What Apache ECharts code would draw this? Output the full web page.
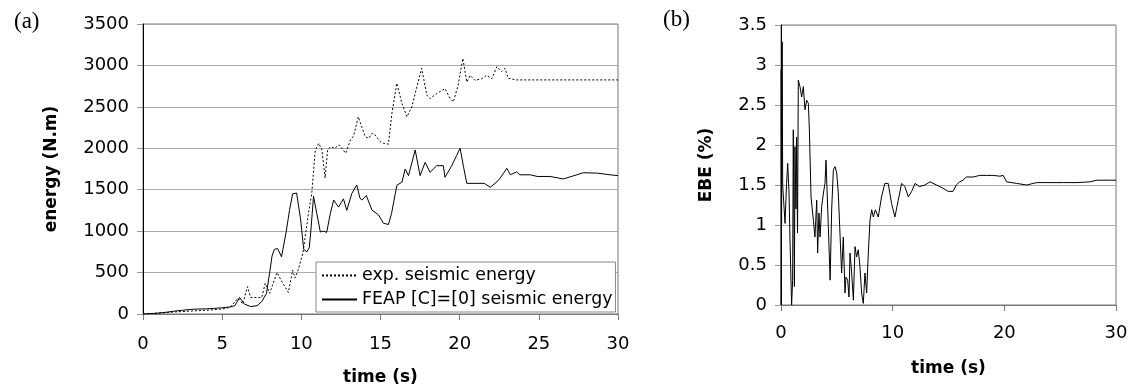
<!DOCTYPE html>
<html><head><meta charset="utf-8">
<script src="https://cdn.jsdelivr.net/npm/echarts@6/dist/echarts.min.js"></script>
<style>html,body{margin:0;padding:0;background:#fff}#c{width:1133px;height:392px}</style>
</head><body><div id="c"></div>
<script>
const expName = 'exp. seismic energy';
const feapName = 'FEAP [C]=[0] seismic energy';
const energyTicks = [0, 3500, 500];
const ebeTicks = [0, 3.5, 0.5];
const expData = [[0,0],[1,10],[2,25],[3,35],[4,45],[5,60],[5.5,80],[6.0,190],[6.3,120],[6.6,330],[6.8,200],[7.5,200],[7.72,370],[8.0,250],[8.46,500],[8.8,380],[9.18,260],[9.45,530],[9.6,434],[9.8,530],[10.1,735],[10.45,1215],[10.66,1457],[10.88,1980],[11.1,2060],[11.3,1980],[11.5,1640],[11.66,1980],[11.85,2020],[12.1,2000],[12.4,2040],[12.8,1940],[13.1,2100],[13.3,2150],[13.6,2380],[13.83,2250],[14.04,2140],[14.25,2120],[14.46,2180],[14.66,2160],[14.98,2080],[15.2,2060],[15.5,2050],[15.72,2420],[16.03,2785],[16.35,2545],[16.67,2380],[16.98,2500],[17.3,2745],[17.6,2965],[17.93,2640],[18.13,2600],[18.55,2660],[19.07,2720],[19.4,2600],[19.6,2560],[19.9,2760],[20.2,3085],[20.45,2800],[20.66,2880],[20.97,2820],[21.4,2840],[21.7,2880],[22.03,2840],[22.35,2985],[22.65,2925],[22.86,2965],[23.07,2845],[23.6,2825],[30,2825]];
const feapData = [[0,0],[0.5,5],[1,12],[1.5,22],[2,35],[2.5,45],[3,55],[3.5,60],[4,62],[4.5,68],[5,75],[5.5,85],[5.8,100],[6.1,200],[6.4,120],[6.8,90],[7.2,100],[7.5,150],[7.8,250],[8.0,500],[8.15,700],[8.3,780],[8.5,790],[8.75,690],[9.05,1000],[9.25,1250],[9.45,1450],[9.7,1460],[9.95,1150],[10.15,780],[10.35,750],[10.5,800],[10.6,1000],[10.77,1420],[10.98,1210],[11.2,990],[11.4,1000],[11.6,985],[11.83,1210],[12.04,1375],[12.35,1290],[12.66,1390],[12.87,1250],[13.19,1455],[13.5,1557],[13.7,1400],[13.82,1375],[14.1,1430],[14.46,1255],[14.88,1195],[15.19,1095],[15.5,1080],[15.7,1215],[15.93,1450],[16.04,1555],[16.35,1590],[16.56,1750],[16.77,1670],[17.19,1980],[17.5,1670],[17.82,1830],[18.13,1710],[18.55,1790],[18.97,1790],[19.07,1650],[19.5,1790],[19.8,1910],[20.03,2000],[20.24,1780],[20.45,1577],[21.1,1577],[21.55,1577],[21.93,1530],[22.35,1595],[22.56,1640],[22.98,1758],[23.2,1680],[23.6,1715],[23.8,1680],[24.46,1680],[24.9,1660],[25.7,1660],[26.55,1630],[27.4,1680],[27.8,1705],[28.7,1700],[29.5,1680],[30,1670]];
const ebeData = [[0,0],[0.02,2.94],[0.05,1.0],[0.1,3.29],[0.15,1.5],[0.2,1.48],[0.36,1.02],[0.5,1.52],[0.6,1.77],[0.72,1.4],[0.8,0.85],[0.95,0],[1.04,0.31],[1.1,2.19],[1.2,0.23],[1.25,1.98],[1.34,1.2],[1.4,2.1],[1.48,0.9],[1.55,2.81],[1.7,2.73],[1.85,2.6],[2.0,2.73],[2.15,2.44],[2.3,2.56],[2.45,2.52],[2.54,2.19],[2.69,1.35],[2.9,1.06],[3.04,0.85],[3.2,1.31],[3.28,0.65],[3.4,1.15],[3.5,0.85],[3.64,1.23],[3.8,1.4],[3.94,1.52],[4.03,1.81],[4.12,1.45],[4.24,0.98],[4.4,0.31],[4.54,1.2],[4.69,1.69],[4.84,1.73],[4.99,1.65],[5.13,1.4],[5.28,0.9],[5.43,0.4],[5.58,0.85],[5.73,0.15],[5.82,0.35],[5.97,0.31],[6.09,0.1],[6.18,0.65],[6.33,0.4],[6.48,0.06],[6.63,0.73],[6.77,0.6],[6.92,0.69],[7.07,0.48],[7.22,0.15],[7.37,0.02],[7.52,0.4],[7.67,0.15],[7.82,0.65],[7.97,1.06],[8.12,1.19],[8.27,1.1],[8.45,1.19],[8.71,1.1],[9.0,1.35],[9.3,1.52],[9.6,1.52],[9.9,1.27],[10.2,1.1],[10.5,1.31],[10.8,1.52],[11.1,1.48],[11.4,1.35],[11.7,1.42],[12.0,1.52],[12.4,1.48],[12.9,1.5],[13.34,1.54],[13.93,1.5],[14.5,1.46],[14.98,1.42],[15.4,1.42],[15.7,1.5],[16.0,1.54],[16.3,1.56],[16.6,1.6],[17.2,1.6],[17.8,1.62],[18.4,1.62],[19.0,1.62],[19.6,1.61],[19.9,1.62],[20.2,1.54],[21.1,1.52],[22.0,1.5],[22.9,1.53],[24.1,1.53],[25.3,1.53],[26.5,1.53],[27.7,1.54],[28.3,1.56],[29.5,1.56],[30,1.56]];

const FONT = 'DejaVu Sans';
const chart = echarts.init(document.getElementById('c'), null, {renderer: 'canvas'});
const plain = v => String(v);
function xAx(gi, interval, margin) {
  return {
    gridIndex: gi, type: 'value', min: 0, max: 30, interval: interval,
    name: 'time (s)', nameLocation: 'middle', nameGap: 55,
    nameTextStyle: {fontFamily: FONT, fontWeight: 'bold', fontSize: 17, color: '#000'},
    axisLine: {show: true, lineStyle: {color: '#777', width: 1}},
    axisTick: {show: true, length: 6, lineStyle: {color: '#777'}},
    axisLabel: {fontFamily: FONT, fontSize: 18, color: '#000', margin: margin, formatter: plain},
    splitLine: {show: false}
  };
}
function yAx(gi, ticks, name, gap) {
  return {
    gridIndex: gi, type: 'value', min: ticks[0], max: ticks[1], interval: ticks[2],
    name: name, nameLocation: 'middle', nameGap: gap, nameRotate: 90,
    nameTextStyle: {fontFamily: FONT, fontWeight: 'bold', fontSize: 17, color: '#000'},
    axisLine: {show: true, lineStyle: {color: '#000', width: 1}},
    axisTick: {show: true, length: 6, lineStyle: {color: '#999'}},
    axisLabel: {fontFamily: FONT, fontSize: 18, color: '#000', margin: 14, formatter: plain},
    splitLine: {show: true, lineStyle: {color: '#aaa', width: 1}}
  };
}
chart.setOption({
  animation: false,
  backgroundColor: '#fff',
  title: [
    {text: '(a)', left: 9, top: 5, textStyle: {fontFamily: 'Liberation Serif', fontWeight: 'normal', fontSize: 23, color: '#000'}},
    {text: '(b)', left: 658, top: 3, textStyle: {fontFamily: 'Liberation Serif', fontWeight: 'normal', fontSize: 23, color: '#000'}}
  ],
  grid: [
    {left: 143, top: 24, right: 515, bottom: 78, show: true, borderColor: '#777', borderWidth: 1, backgroundColor: 'transparent'},
    {left: 781, top: 25, right: 17, bottom: 87, show: true, borderColor: '#777', borderWidth: 1, backgroundColor: 'transparent'}
  ],
  xAxis: [xAx(0, 5, 21), xAx(1, 10, 19)],
  yAxis: [yAx(0, energyTicks, 'energy (N.m)', 83), yAx(1, ebeTicks, 'EBE (%)', 66)],
  legend: {
    data: [expName, feapName],
    orient: 'vertical', left: 316, top: 262,
    backgroundColor: '#fff', borderColor: '#888', borderWidth: 1,
    padding: [5, 3, 4, 5], itemGap: 7, itemWidth: 35, itemHeight: 14,
    itemStyle: {opacity: 0},
    textStyle: {fontFamily: FONT, fontSize: 17.4, color: '#000'}
  },
  series: [
    {name: expName, type: 'line', xAxisIndex: 0, yAxisIndex: 0, data: expData, symbol: 'none', showSymbol: false,
     lineStyle: {color: '#000', width: 1, type: [2, 2]}, itemStyle: {color: '#000'}},
    {name: feapName, type: 'line', xAxisIndex: 0, yAxisIndex: 0, data: feapData, symbol: 'none', showSymbol: false,
     lineStyle: {color: '#000', width: 1}, itemStyle: {color: '#000'}},
    {name: 'EBE', type: 'line', xAxisIndex: 1, yAxisIndex: 1, data: ebeData, symbol: 'none', showSymbol: false,
     lineStyle: {color: '#000', width: 1}, itemStyle: {color: '#000'}}
  ]
});
</script></body></html>
